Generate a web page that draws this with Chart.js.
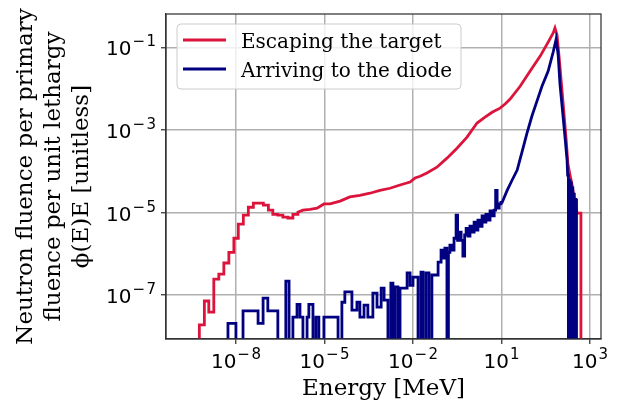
<!DOCTYPE html>
<html>
<head>
<meta charset="utf-8">
<script src="https://cdn.jsdelivr.net/npm/chart.js@4/dist/chart.umd.min.js"></script>
<style>
  html, body { margin: 0; padding: 0; background: #fff; }
</style>
</head>
<body>
<canvas id="fluenceChart" width="620" height="405"></canvas>
<script>
/* values, stored as log10 (energy in MeV, fluence unitless) */
/* null = empty bin */

// escaping the target: coarse bins at low energy
const redBinEdges = [-10.37, -9.24, -9.07, -8.92, -8.75, -8.58, -8.41, -8.24, -8.07, -7.92, -7.75,
    -7.58, -7.41, -7.24, -7.07, -6.90, -6.75, -6.58, -6.41, -6.24, -6.07, -5.90];
const redBinPhi = [null, -7.72, -7.14, -7.41, -6.61, -6.49, -6.22, -5.96, -5.62, -5.28, -5.06,
    -4.87, -4.77, -4.77, -4.82, -4.94, -5.04, -5.06, -5.11, -5.13, -5.04];
// escaping the target: fine bins up to the peak and down
const redCurveE = [-5.90, -5.73, -5.49, -5.25, -5.02, -4.81, -4.47, -4.14, -3.80, -3.46, -3.12,
    -2.78, -2.44, -2.10, -1.93, -1.76, -1.53, -1.19, -0.85, -0.51, -0.17, 0.17, 0.44, 0.68,
    0.95, 1.12, 1.29, 1.63, 1.97, 2.31, 2.58, 2.75, 2.81, 2.88, 2.95, 3.08, 3.19, 3.25, 3.32,
    3.39, 3.46, 3.56];
const redCurvePhi = [-4.99, -4.94, -4.92, -4.89, -4.79, -4.79, -4.72, -4.62, -4.58, -4.53, -4.46,
    -4.41, -4.33, -4.26, -4.16, -4.12, -4.04, -3.90, -3.68, -3.44, -3.17, -2.83, -2.69, -2.57,
    -2.47, -2.37, -2.25, -1.94, -1.57, -1.21, -0.87, -0.65, -0.53, -0.70, -1.23, -2.30, -3.24,
    -3.83, -4.09, -4.33, -4.65, -5.01];
const redTailEdges = [3.56, 3.69, 4.37];
const redTailPhi = [-5.01, null];

// arriving to the diode: noisy low-statistics bins
const blueBinEdges = [-10.37, -8.27, -8.00, -7.76, -7.25, -7.08, -6.92, -6.58, -6.31, -6.20, -6.07,
    -5.93, -5.83, -5.73, -5.59, -5.53, -5.39, -5.29, -5.19, -5.02, -4.54, -4.41, -4.31, -4.07,
    -3.90, -3.80, -3.66, -3.53, -3.36, -3.22, -3.08, -2.98, -2.85, -2.75, -2.68, -2.61, -2.51,
    -2.44, -2.20, -2.10, -2.00, -1.83, -1.73, -1.66, -1.56, -1.46, -1.36,
    -1.15, -1.05, -0.98, -0.92, -0.85, -0.80, -0.75, -0.68, -0.61, -0.54, -0.49, -0.44, -0.37,
    -0.31, -0.25, -0.20, -0.14, -0.07, 0.00, 0.07, 0.14, 0.20, 0.27, 0.34, 0.41, 0.47, 0.54,
    0.61, 0.68, 0.75, 0.80, 0.85, 0.92, 0.98, 1.02];
const blueBinPhi = [null, -7.68, null, -7.38, -7.68, -7.07, -7.38, null, -6.66, null, -7.53,
    -7.22, -7.53, null, -7.53, -7.22, null, -7.53, null, -7.53, null, -7.17, -6.92, -7.36,
    -7.17, -7.53, -7.24, -7.53, -6.95, -7.29, -6.83, -7.12, null, -6.71, null, -6.80, null,
    -6.83, -6.46, -6.76, -6.56, null, -6.44, null, -6.46, null, -6.51,
    -6.20, -5.91, -6.10, -5.86, null, -5.96, -5.79, -5.91, -5.62, -5.06, -5.67, -5.47, -5.67,
    -6.05, -5.54, -5.38, -5.57, -5.33, -5.47, -5.23, -5.42, -5.18, -5.33, -5.08, -5.23, -5.04,
    -5.18, -4.96, -5.08, -4.94, -4.46, -4.89, -4.79, -4.75];
// arriving to the diode: fine bins around the peak
const blueCurveE = [1.02, 1.19, 1.36, 1.53, 1.69, 1.86, 2.03, 2.20, 2.37, 2.58, 2.75, 2.85, 2.92,
    2.98, 3.08, 3.15, 3.22];
const blueCurvePhi = [-4.75, -4.46, -4.21, -3.97, -3.54, -3.08, -2.66, -2.30, -1.94, -1.57, -1.11,
    -0.80, -1.19, -1.89, -2.64, -3.17, -3.73];
// arriving to the diode: flickering high-energy tail
const blueTailEdges = [3.24, 3.265, 3.29, 3.315, 3.34, 3.365, 3.39, 3.415, 3.44, 3.465, 3.49,
    3.515, 3.54, 4.37];
const blueTailPhi = [-4.09, null, -4.22, null, -4.28, null, -4.40, null, -4.55, null, -4.68,
    -4.70, null];

const xLimits = [-10.37, 4.37];
const yLimits = [-8.06, -0.19];
const xTickValues = [1e-8, 1e-5, 1e-2, 1e1, 1e4];
const xTickExp = ['\u22128', '\u22125', '\u22122', '1', '3'];
const yTickValues = [1e-1, 1e-3, 1e-5, 1e-7];
const yTickExp = ['\u22121', '\u22123', '\u22125', '\u22127'];

const EMPTY = -12;   // empty bins fall below the visible range

/*helpers turning the read values into polyline vertices*/
function stepVertices(edges, vals) {
    const pts = [];
    for (let i = 0; i < vals.length; i++) {
        const v = vals[i] === null ? EMPTY : vals[i];
        pts.push({x: 10 ** edges[i], y: 10 ** v});
        pts.push({x: 10 ** edges[i + 1], y: 10 ** v});
    }
    return pts;
}

function curveVertices(es, vs) {
    return es.map((e, i) => ({x: 10 ** e, y: 10 ** vs[i]}));
}

const redData = [
    ...stepVertices(redBinEdges, redBinPhi),
    ...curveVertices(redCurveE, redCurvePhi),
    ...stepVertices(redTailEdges, redTailPhi)
];
const blueData = [
    ...stepVertices(blueBinEdges, blueBinPhi),
    ...curveVertices(blueCurveE, blueCurvePhi),
    ...stepVertices(blueTailEdges, blueTailPhi)
];

/*draws 10^n with a raised exponent, minus sign spaced like mathtext*/
function drawPow(ctx, px, base, exp, align) {
    const big = '20px "DejaVu Sans"', small = '15px "DejaVu Sans"';
    ctx.font = big;
    const wBase = ctx.measureText('10').width;
    ctx.font = small;
    const neg = exp.startsWith('\u2212');
    const digits = neg ? exp.slice(1) : exp;
    const wMinus = neg ? ctx.measureText('\u2212').width + 1.5 : 0;
    const wExp = wMinus + ctx.measureText(digits).width + 1;
    const left = align === 'center' ? px - (wBase + wExp) / 2 : px - wBase - wExp;
    ctx.font = big;
    ctx.fillText('10', left, base);
    ctx.font = small;
    if (neg) ctx.fillText('\u2212', left + wBase + 1, base - 9);
    ctx.fillText(digits, left + wBase + 1 + wMinus, base - 9);
}

const decor = {
    id: 'decor',
    afterDraw(chart) {
        const {ctx, chartArea: a, scales: {x, y}} = chart;
        ctx.save();

        //frame on all four sides
        ctx.strokeStyle = '#333';
        ctx.lineWidth = 1.25;
        ctx.strokeRect(a.left, a.top, a.right - a.left, a.bottom - a.top);

        //tick labels
        ctx.fillStyle = '#000';
        ctx.textAlign = 'left';
        ctx.textBaseline = 'alphabetic';
        x.ticks.forEach((t, i) => drawPow(ctx, x.getPixelForValue(t.value), a.bottom + 29, xTickExp[i], 'center'));
        y.ticks.forEach((t, i) => drawPow(ctx, a.left - 10, y.getPixelForValue(t.value) + 8, yTickExp[i], 'right'));

        //legend box in the upper left corner
        const bx = a.left + 11, by = a.top + 10, bw = 284, bh = 65;
        ctx.beginPath();
        ctx.roundRect(bx, by, bw, bh, 4);
        ctx.fillStyle = 'rgba(255,255,255,0.8)';
        ctx.fill();
        ctx.strokeStyle = '#cccccc';
        ctx.lineWidth = 1;
        ctx.stroke();

        const entries = [chart.data.datasets[1], chart.data.datasets[0]];
        entries.forEach((ds, i) => {
            const ly = by + 16 + i * 29;
            ctx.beginPath();
            ctx.moveTo(bx + 6, ly);
            ctx.lineTo(bx + 49, ly);
            ctx.strokeStyle = ds.borderColor;
            ctx.lineWidth = 2.8;
            ctx.stroke();
            ctx.fillStyle = '#000';
            ctx.font = '20px "DejaVu Serif"';
            ctx.fillText(ds.label, bx + 64, ly + 7.5);
        });

        ctx.restore();
    }
};

new Chart(document.getElementById('fluenceChart'), {
    type: 'line',
    data: {
        datasets: [{
            label: 'Arriving to the diode',
            data: blueData,
            borderColor: '#000080',
            borderWidth: 2.8,
            borderDash: [1000, 0],   // solid, but keeps every vertex (no per-pixel merging)
            order: 0,
            clip: 0
        },
        {
            label: 'Escaping the target',
            data: redData,
            borderColor: '#DC143C',
            borderWidth: 2.8,
            borderDash: [1000, 0],
            order: 1,
            clip: 0
        }]
    },
    options: {
        responsive: false,
        animation: false,
        devicePixelRatio: 1,
        layout: { padding: { top: 14, right: 19, left: 0, bottom: 0 } },
        elements: {
            point: { radius: 0 },
            line: { tension: 0 }
        },
        plugins: {
            legend: { display: false },
            tooltip: { enabled: false }
        },
        scales: {
            x: {
                type: 'logarithmic',
                min: 10 ** xLimits[0],
                max: 10 ** xLimits[1],
                afterBuildTicks: (s) => { s.ticks = xTickValues.map(v => ({ value: v })); },
                afterFit: (s) => { s.height = 66; },
                ticks: { display: false },
                grid: { color: '#b0b0b0', lineWidth: 1.5, tickColor: '#333', tickLength: 5, tickWidth: 1.25 },
                border: { color: '#333', width: 1.25 },
                title: {
                    display: true,
                    text: 'Energy [MeV]',
                    color: '#000',
                    font: { family: 'DejaVu Serif', size: 23, lineHeight: 1.2 },
                    padding: { top: 0, bottom: 2 }
                }
            },
            y: {
                type: 'logarithmic',
                min: 10 ** yLimits[0],
                max: 10 ** yLimits[1],
                afterBuildTicks: (s) => { s.ticks = yTickValues.map(v => ({ value: v })); },
                afterFit: (s) => { s.width = 166; },
                ticks: { display: false },
                grid: { color: '#b0b0b0', lineWidth: 1.5, tickColor: '#333', tickLength: 5, tickWidth: 1.25 },
                border: { color: '#333', width: 1.25 },
                title: {
                    display: true,
                    text: ['Neutron fluence per primary', 'fluence per unit lethargy', '\u03D5(E)E [unitless]'],
                    color: '#000',
                    font: { family: 'DejaVu Serif', size: 23, lineHeight: 1.22 },
                    padding: { top: 12, bottom: 0 }
                }
            }
        }
    },
    plugins: [decor]
});
</script>
</body>
</html>
